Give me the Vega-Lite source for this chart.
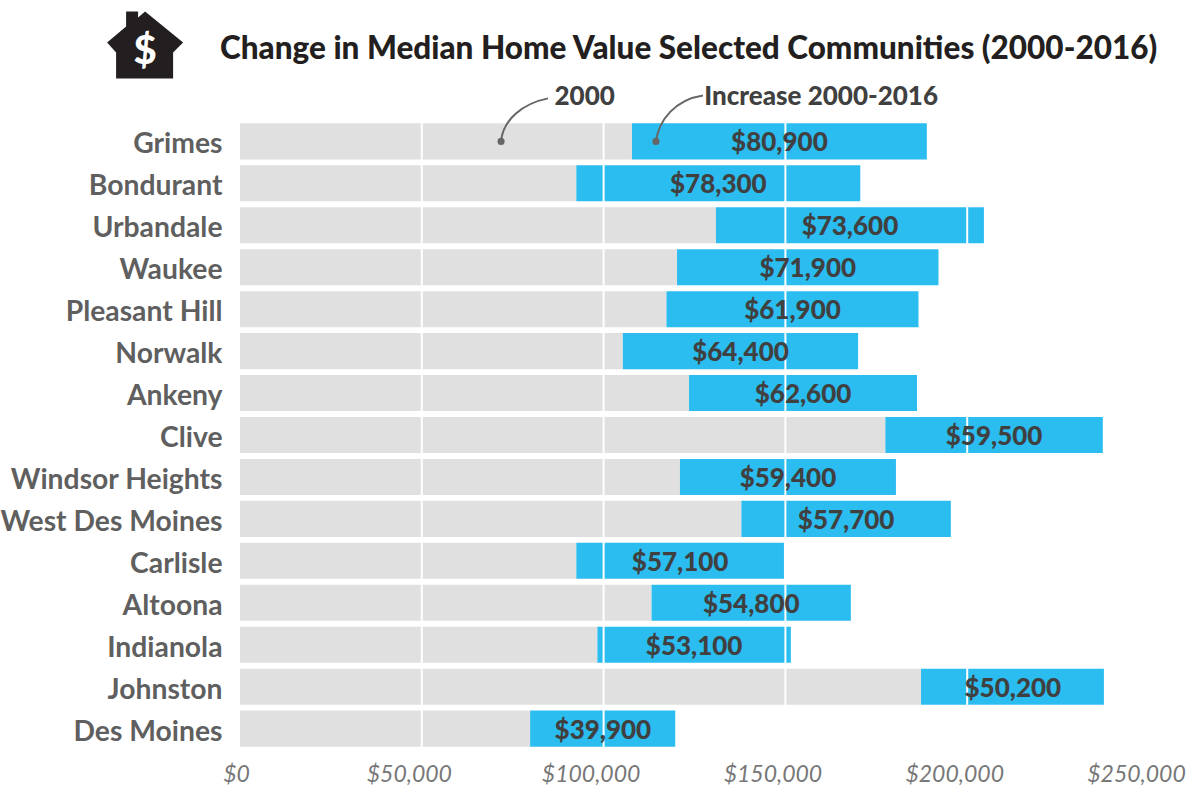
{
"$schema":"https://vega.github.io/schema/vega-lite/v6.json",
"width":909,"height":630,
"autosize":"none",
"padding":{"left":240,"top":120,"right":39,"bottom":37},
"background":"white",
"view":{"stroke":null},
"title":{"text":"Change in Median Home Value Selected Communities (2000-2016)","anchor":"start","frame":"group","dx":-20,"offset":-54,"font":"Lato","fontSize":31.5,"fontWeight":900,"color":"#231f20"},
"datasets":{
"rows":[
{"city":"Grimes","start":107800,"end":188900,"mid":148350,"label":"$80,900"},
{"city":"Bondurant","start":92500,"end":170600,"mid":131550,"label":"$78,300"},
{"city":"Urbandale","start":130900,"end":204600,"mid":167750,"label":"$73,600"},
{"city":"Waukee","start":120200,"end":192100,"mid":156150,"label":"$71,900"},
{"city":"Pleasant Hill","start":117300,"end":186600,"mid":151950,"label":"$61,900"},
{"city":"Norwalk","start":105300,"end":170000,"mid":137650,"label":"$64,400"},
{"city":"Ankeny","start":123500,"end":186200,"mid":154850,"label":"$62,600"},
{"city":"Clive","start":177500,"end":237300,"mid":207400,"label":"$59,500"},
{"city":"Windsor Heights","start":121000,"end":180400,"mid":150700,"label":"$59,400"},
{"city":"West Des Moines","start":137900,"end":195500,"mid":166700,"label":"$57,700"},
{"city":"Carlisle","start":92500,"end":149600,"mid":121050,"label":"$57,100"},
{"city":"Altoona","start":113200,"end":168000,"mid":140600,"label":"$54,800"},
{"city":"Indianola","start":98300,"end":151500,"mid":124900,"label":"$53,100"},
{"city":"Johnston","start":187300,"end":237600,"mid":212550,"label":"$50,200"},
{"city":"Des Moines","start":79800,"end":119700,"mid":99800,"label":"$39,900"}
],
"grid":[{"v":50000},{"v":100000},{"v":150000},{"v":200000}],
"notes":[
{"city":"Grimes","x":71800,"textx":86500,"text":"2000","curve":"M0,0C2,-22 22,-38 47,-43"},
{"city":"Grimes","x":114400,"textx":127700,"text":"Increase 2000-2016","curve":"M0,0C3,-22 20,-42 47,-46"}
],
"icon":[{"city":"Grimes","x":-26100,"sym":"$"}]
},
"encoding":{"y":{"field":"city","type":"nominal","sort":null,"scale":{"paddingInner":0.14,"paddingOuter":0.08},"axis":{"title":null,"domain":false,"ticks":false,"labelFont":"Lato","labelFontSize":28.3,"labelFontWeight":700,"labelColor":"#5f5f5f","labelPadding":18,"labelLimit":300,"labelOffset":4}}},
"layer":[
{"data":{"name":"rows"},"mark":{"type":"bar","color":"#e0e0e0"},"encoding":{"x":{"field":"start","type":"quantitative","scale":{"domain":[0,250000],"nice":false},"axis":{"title":null,"values":[0,50000,100000,150000,200000,250000],"format":"$,.0f","grid":false,"domain":false,"ticks":false,"labelFont":"Lato","labelFontSize":23,"labelFontStyle":"italic","labelFontWeight":400,"labelColor":"#777777","labelPadding":24,"labelBaseline":"middle","labelOverlap":false,"labelFlush":false,"labelBound":false,"labelOffset":{"condition":{"test":"datum.value===0","value":-4},"value":-13}}}}},
{"data":{"name":"rows"},"mark":{"type":"bar","color":"#2bbcf0"},"encoding":{"x":{"field":"start","type":"quantitative"},"x2":{"field":"end"}}},
{"data":{"name":"grid"},"mark":{"type":"rule","color":"white","strokeWidth":2},"encoding":{"y":null,"x":{"field":"v","type":"quantitative"}}},
{"data":{"name":"rows"},"mark":{"type":"text","font":"Lato","fontSize":26,"fontWeight":900,"color":"#404040","dy":2},"encoding":{"x":{"field":"mid","type":"quantitative"},"text":{"field":"label"}}},
{"data":{"name":"notes"},"mark":{"type":"point","filled":true,"color":"#666666","opacity":1,"size":50},"encoding":{"x":{"field":"x","type":"quantitative"}}},
{"data":{"name":"notes"},"mark":{"type":"point","filled":false,"stroke":"#666666","strokeWidth":2,"opacity":1,"size":4},"encoding":{"x":{"field":"x","type":"quantitative"},"shape":{"field":"curve","type":"nominal","scale":null}}},
{"data":{"name":"notes"},"mark":{"type":"text","font":"Lato","fontSize":26,"fontWeight":900,"color":"#404040","align":"left","yOffset":-44},"encoding":{"x":{"field":"textx","type":"quantitative"},"text":{"field":"text"}}},
{"data":{"name":"icon"},"mark":{"type":"point","filled":true,"color":"#231f20","opacity":1,"size":4,"shape":"M0,-34L38,-3L28,7L28,33L-29,33L-29,7L-38,-3L-19,-19L-19,-34L-7,-34L-7,-28Z","yOffset":-96},"encoding":{"x":{"field":"x","type":"quantitative"}}},
{"data":{"name":"icon"},"mark":{"type":"text","font":"Lato","fontSize":40,"fontWeight":900,"color":"white","yOffset":-89},"encoding":{"x":{"field":"x","type":"quantitative"},"text":{"field":"sym"}}}
]
}
